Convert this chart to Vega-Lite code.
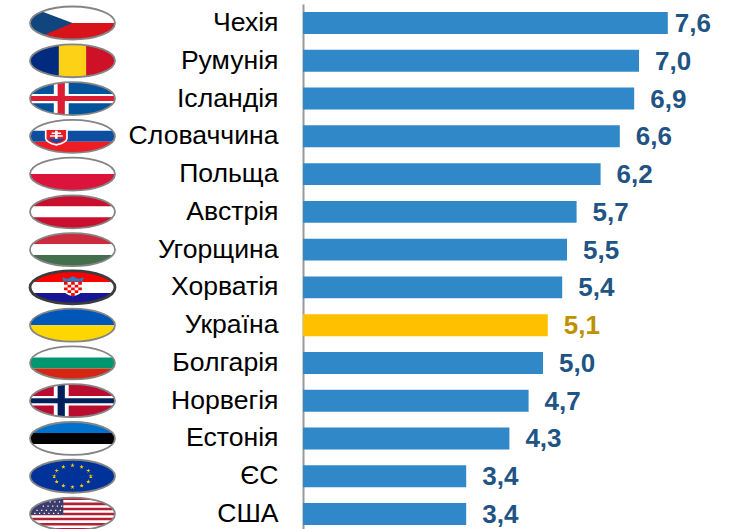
{"$schema":"https://vega.github.io/schema/vega-lite/v6.json","padding":{"left":0,"top":2,"right":0,"bottom":0},"spacing":0,"background":"white","config":{"view":{"stroke":null},"font":"Liberation Sans"},
"resolve":{"scale":{"color":"independent","shape":"independent","stroke":"independent","strokeWidth":"independent"}},
"datasets":{
"rows":[
{"country":"Чехія","value":7.6,"label":"7,6","group":"other","rim":"grey"},
{"country":"Румунія","value":7.0,"label":"7,0","group":"other","rim":"grey"},
{"country":"Ісландія","value":6.9,"label":"6,9","group":"other","rim":"grey"},
{"country":"Словаччина","value":6.6,"label":"6,6","group":"other","rim":"grey"},
{"country":"Польща","value":6.2,"label":"6,2","group":"other","rim":"grey"},
{"country":"Австрія","value":5.7,"label":"5,7","group":"other","rim":"grey"},
{"country":"Угорщина","value":5.5,"label":"5,5","group":"other","rim":"grey"},
{"country":"Хорватія","value":5.4,"label":"5,4","group":"other","rim":"dark"},
{"country":"Україна","value":5.1,"label":"5,1","group":"ukraine","rim":"grey"},
{"country":"Болгарія","value":5.0,"label":"5,0","group":"other","rim":"grey"},
{"country":"Норвегія","value":4.7,"label":"4,7","group":"other","rim":"grey"},
{"country":"Естонія","value":4.3,"label":"4,3","group":"other","rim":"grey"},
{"country":"ЄС","value":3.4,"label":"3,4","group":"other","rim":"grey"},
{"country":"США","value":3.4,"label":"3,4","group":"other","rim":"grey"}],
"flags":[
{"country":"Чехія","part":"th","paint":"white"},{"country":"Чехія","part":"bh","paint":"czred"},{"country":"Чехія","part":"cztri","paint":"czblue"},
{"country":"Румунія","part":"vl","paint":"roblue"},{"country":"Румунія","part":"vc","paint":"royellow"},{"country":"Румунія","part":"vr","paint":"rored"},
{"country":"Ісландія","part":"full","paint":"isblue"},{"country":"Ісландія","part":"crossV","paint":"white"},{"country":"Ісландія","part":"crossH","paint":"white"},{"country":"Ісландія","part":"crossVi","paint":"isred"},{"country":"Ісландія","part":"crossHi","paint":"isred"},
{"country":"Словаччина","part":"t3","paint":"white"},{"country":"Словаччина","part":"m3","paint":"skblue"},{"country":"Словаччина","part":"b3","paint":"skred"},{"country":"Словаччина","part":"skShieldOuter","paint":"white"},{"country":"Словаччина","part":"skShield","paint":"skred"},{"country":"Словаччина","part":"skHills","paint":"skblue"},{"country":"Словаччина","part":"skCross","paint":"white"},
{"country":"Польща","part":"th","paint":"white"},{"country":"Польща","part":"bh","paint":"plred"},
{"country":"Австрія","part":"t3","paint":"atred"},{"country":"Австрія","part":"m3","paint":"white"},{"country":"Австрія","part":"b3","paint":"atred"},
{"country":"Угорщина","part":"t3","paint":"hured"},{"country":"Угорщина","part":"m3","paint":"white"},{"country":"Угорщина","part":"b3","paint":"hugreen"},
{"country":"Хорватія","part":"t3","paint":"hrred"},{"country":"Хорватія","part":"m3","paint":"white"},{"country":"Хорватія","part":"b3","paint":"hrblue"},{"country":"Хорватія","part":"hrShield","paint":"white"},{"country":"Хорватія","part":"hrChecks","paint":"hrred"},{"country":"Хорватія","part":"hrCrown","paint":"hrcrown"},
{"country":"Україна","part":"th","paint":"uablue"},{"country":"Україна","part":"bh","paint":"uayellow"},
{"country":"Болгарія","part":"t3","paint":"white"},{"country":"Болгарія","part":"m3","paint":"bggreen"},{"country":"Болгарія","part":"b3","paint":"bgred"},
{"country":"Норвегія","part":"full","paint":"nored"},{"country":"Норвегія","part":"crossV","paint":"white"},{"country":"Норвегія","part":"crossH","paint":"white"},{"country":"Норвегія","part":"crossVi","paint":"noblue"},{"country":"Норвегія","part":"crossHi","paint":"noblue"},
{"country":"Естонія","part":"t3","paint":"eeblue"},{"country":"Естонія","part":"m3","paint":"black"},{"country":"Естонія","part":"b3","paint":"white"},
{"country":"ЄС","part":"full","paint":"eublue"},{"country":"ЄС","part":"euStars","paint":"euyellow"},
{"country":"США","part":"full","paint":"white"},{"country":"США","part":"usStripes","paint":"usred"},{"country":"США","part":"usCanton","paint":"usblue"},{"country":"США","part":"usDots","paint":"white"}]},
"hconcat":[
{"width":128,"height":525,"layer":[
{"data":{"name":"flags"},"mark":{"type":"point","filled":true,"opacity":1,"size":7225,"strokeWidth":0,"clip":false},
"encoding":{"x":{"datum":0,"type":"quantitative","scale":{"domain":[-72.5,55.5],"nice":false,"zero":false},"axis":null},
"y":{"field":"country","type":"nominal","sort":null,"axis":null,"scale":{"type":"band","domain":["Чехія","Румунія","Ісландія","Словаччина","Польща","Австрія","Угорщина","Хорватія","Україна","Болгарія","Норвегія","Естонія","ЄС","США"],"paddingInner":0.42,"paddingOuter":0.16,"align":0.667}},
"shape":{"field":"part","type":"nominal","legend":null,"scale":{"domain":["full","t3","m3","b3","th","bh","vl","vc","vr","cztri","crossV","crossH","crossVi","crossHi","skShieldOuter","skShield","skHills","skCross","hrShield","hrChecks","hrCrown","euStars","usStripes","usCanton","usDots"],
"range":["M-1 0A1 .388 0 1 1 1 0A1 .388 0 1 1 -1 0Z",
"M-.943 -.129A1 .388 0 0 1 .943 -.129Z",
"M-.943 -.129L.943 -.129A1 .388 0 0 1 .943 .129L-.943 .129A1 .388 0 0 1 -.943 -.129Z",
"M.943 .129A1 .388 0 0 1 -.943 .129Z",
"M-1 0A1 .388 0 0 1 1 0Z",
"M1 0A1 .388 0 0 1 -1 0Z",
"M-.32 -.368A1 .388 0 0 0 -1 0A1 .388 0 0 0 -.32 .368Z",
"M-.32 -.368A1 .388 0 0 1 .32 -.368L.32 .368A1 .388 0 0 1 -.32 .368Z",
"M.32 -.368A1 .388 0 0 1 1 0A1 .388 0 0 1 .32 .368Z",
"M0 0L-.72 -.27A1 .388 0 0 0 -1 0A1 .388 0 0 0 -.68 .285Z",
"M-.44 -.348A1 .388 0 0 1 -.09 -.386L-.09 .386A1 .388 0 0 1 -.44 .348Z",
"M-.959 -.11L.959 -.11A1 .388 0 0 1 .959 .11L-.959 .11A1 .388 0 0 1 -.959 -.11Z",
"M-.35 -.363A1 .388 0 0 1 -.18 -.382L-.18 .382A1 .388 0 0 1 -.35 .363Z",
"M-.988 -.06L.988 -.06A1 .388 0 0 1 .988 .06L-.988 .06A1 .388 0 0 1 -.988 -.06Z",
"M-.65 -.18L-.11 -.18L-.11 .05Q-.13 .17 -.38 .22Q-.63 .17 -.65 .05Z",
"M-.61 -.15L-.15 -.15L-.15 .05Q-.17 .14 -.38 .18Q-.59 .14 -.61 .05Z",
"M-.57 .06L-.19 .06Q-.25 .13 -.38 .16Q-.51 .13 -.57 .06Z",
"M-.41 -.13h.06v.19h-.06zM-.49 -.09h.22v.035h-.22zM-.53 -.025h.3v.035h-.3z",
"M-.2 -.13L.22 -.13L.22 .08Q.2 .17 .01 .21Q-.18 .17 -.2 .08Z",
"M-.2 -.13h.084v.066h-.084zM-.032 -.13h.084v.066h-.084zM.136 -.13h.084v.066h-.084zM-.116 -.064h.084v.066h-.084zM.052 -.064h.084v.066h-.084zM-.2 .002h.084v.066h-.084zM-.032 .002h.084v.066h-.084zM.136 .002h.084v.066h-.084zM-.116 .068h.084v.066h-.084zM.052 .068h.084v.066h-.084zM-.032 .134h.084v.066h-.084z",
"M-.22 -.14L.24 -.14L.26 -.24L.14 -.2L.01 -.26L-.12 -.2L-.24 -.24Z",
"M0 -.31l.032 .099 -.084 -.061 .104 0 -.084 .061zM.215 -.276l.032 .099 -.084 -.061 .104 0 -.084 .061zM.372 -.183l.032 .099 -.084 -.061 .104 0 -.084 .061zM.43 -.055l.032 .099 -.084 -.061 .104 0 -.084 .061zM.372 .073l.032 .099 -.084 -.061 .104 0 -.084 .061zM.215 .166l.032 .099 -.084 -.061 .104 0 -.084 .061zM0 .2l.032 .099 -.084 -.061 .104 0 -.084 .061zM-.215 .166l.032 .099 -.084 -.061 .104 0 -.084 .061zM-.372 .073l.032 .099 -.084 -.061 .104 0 -.084 .061zM-.43 -.055l.032 .099 -.084 -.061 .104 0 -.084 .061zM-.372 -.183l.032 .099 -.084 -.061 .104 0 -.084 .061zM-.215 -.276l.032 .099 -.084 -.061 .104 0 -.084 .061z",
"M-.534 -.328A1 .388 0 0 1 .534 -.328ZM-.721 -.269L.721 -.269L.842 -.209L-.842 -.209ZM-.923 -.149L.923 -.149L.973 -.09L-.973 -.09ZM-.997 -.03L.997 -.03L.997 .03L-.997 .03ZM-.973 .09L.973 .09L.923 .149L-.923 .149ZM-.842 .209L.842 .209L.721 .269L-.721 .269ZM-.534 .328A1 .388 0 0 0 .534 .328Z",
"M-.216 -.379L-.216 .02L-1 .02A1 .388 0 0 1 -.216 -.379Z",
"M-.54 -.3h.03v.03h-.03zM-.43 -.3h.03v.03h-.03zM-.32 -.3h.03v.03h-.03zM-.7 -.2h.03v.03h-.03zM-.59 -.2h.03v.03h-.03zM-.48 -.2h.03v.03h-.03zM-.37 -.2h.03v.03h-.03zM-.27 -.2h.03v.03h-.03zM-.85 -.1h.03v.03h-.03zM-.74 -.1h.03v.03h-.03zM-.63 -.1h.03v.03h-.03zM-.52 -.1h.03v.03h-.03zM-.41 -.1h.03v.03h-.03zM-.3 -.1h.03v.03h-.03zM-.9 -.03h.03v.03h-.03zM-.79 -.03h.03v.03h-.03zM-.68 -.03h.03v.03h-.03zM-.57 -.03h.03v.03h-.03zM-.46 -.03h.03v.03h-.03zM-.35 -.03h.03v.03h-.03z"]}},
"color":{"field":"paint","type":"nominal","legend":null,"scale":{"domain":["white","black","czred","czblue","roblue","royellow","rored","isblue","isred","skblue","skred","plred","atred","hured","hugreen","hrred","hrblue","hrcrown","uablue","uayellow","bggreen","bgred","nored","noblue","eeblue","eublue","euyellow","usred","usblue"],
"range":["#ffffff","#000000","#d7141a","#11457e","#002b7f","#fcd116","#ce1126","#02529c","#dc1e35","#0b4ea2","#ee1c25","#dc143c","#c8102e","#cd2a3e","#436f4d","#ff0000","#171796","#2b7fbf","#0057b8","#ffd700","#00966e","#d62612","#ba0c2f","#00205b","#0072ce","#003399","#ffcc00","#b22234","#3c3b6e"]}}}},
{"data":{"name":"rows"},"mark":{"type":"point","filled":false,"opacity":1,"size":7225,"shape":"M-1 0A1 .388 0 1 1 1 0A1 .388 0 1 1 -1 0Z","clip":false},
"encoding":{"x":{"datum":0,"type":"quantitative","scale":{"domain":[-72.5,55.5],"nice":false,"zero":false},"axis":null},
"y":{"field":"country","type":"nominal","sort":null,"axis":null,"scale":{"type":"band","domain":["Чехія","Румунія","Ісландія","Словаччина","Польща","Австрія","Угорщина","Хорватія","Україна","Болгарія","Норвегія","Естонія","ЄС","США"],"paddingInner":0.42,"paddingOuter":0.16,"align":0.667}},
"stroke":{"field":"rim","type":"nominal","legend":null,"scale":{"domain":["grey","dark"],"range":["#858585","#3c3c3c"]}},
"strokeWidth":{"field":"rim","type":"nominal","legend":null,"scale":{"domain":["grey","dark"],"range":[1.8,2.8]}}}}
]},
{"width":432,"height":525,"data":{"name":"rows"},
"resolve":{"scale":{"color":"independent"}},
"encoding":{"y":{"field":"country","type":"nominal","sort":null,"title":null,"scale":{"type":"band","domain":["Чехія","Румунія","Ісландія","Словаччина","Польща","Австрія","Угорщина","Хорватія","Україна","Болгарія","Норвегія","Естонія","ЄС","США"],"paddingInner":0.42,"paddingOuter":0.16,"align":0.667},
"axis":{"ticks":false,"labelPadding":25,"labelFontSize":26.6,"labelColor":"#000000","labelFont":"Liberation Sans","labelLimit":300,"domainColor":"#999999","domainWidth":2,"minExtent":174,"maxExtent":174,"grid":false,"labelBound":false,"labelOverlap":false}},
"x":{"field":"value","type":"quantitative","axis":null,"scale":{"domain":[0,9.0],"nice":false,"zero":true}}},
"layer":[
{"mark":{"type":"bar","clip":false},"encoding":{"color":{"field":"group","type":"nominal","legend":null,"scale":{"domain":["other","ukraine"],"range":["#3088c8","#ffc000"]}}}},
{"transform":[{"filter":"datum.country !== 'Чехія'"}],"mark":{"type":"text","align":"left","baseline":"middle","dx":16,"dy":1,"fontSize":26,"fontWeight":"bold","font":"Liberation Sans"},"encoding":{"text":{"field":"label"},"color":{"field":"group","type":"nominal","legend":null,"scale":{"domain":["other","ukraine"],"range":["#1f5485","#bf9000"]}}}},
{"transform":[{"filter":"datum.country === 'Чехія'"}],"mark":{"type":"text","align":"left","baseline":"middle","dx":7,"dy":1,"fontSize":26,"fontWeight":"bold","font":"Liberation Sans"},"encoding":{"text":{"field":"label"},"color":{"field":"group","type":"nominal","legend":null,"scale":{"domain":["other","ukraine"],"range":["#1f5485","#bf9000"]}}}}
]}
]}
